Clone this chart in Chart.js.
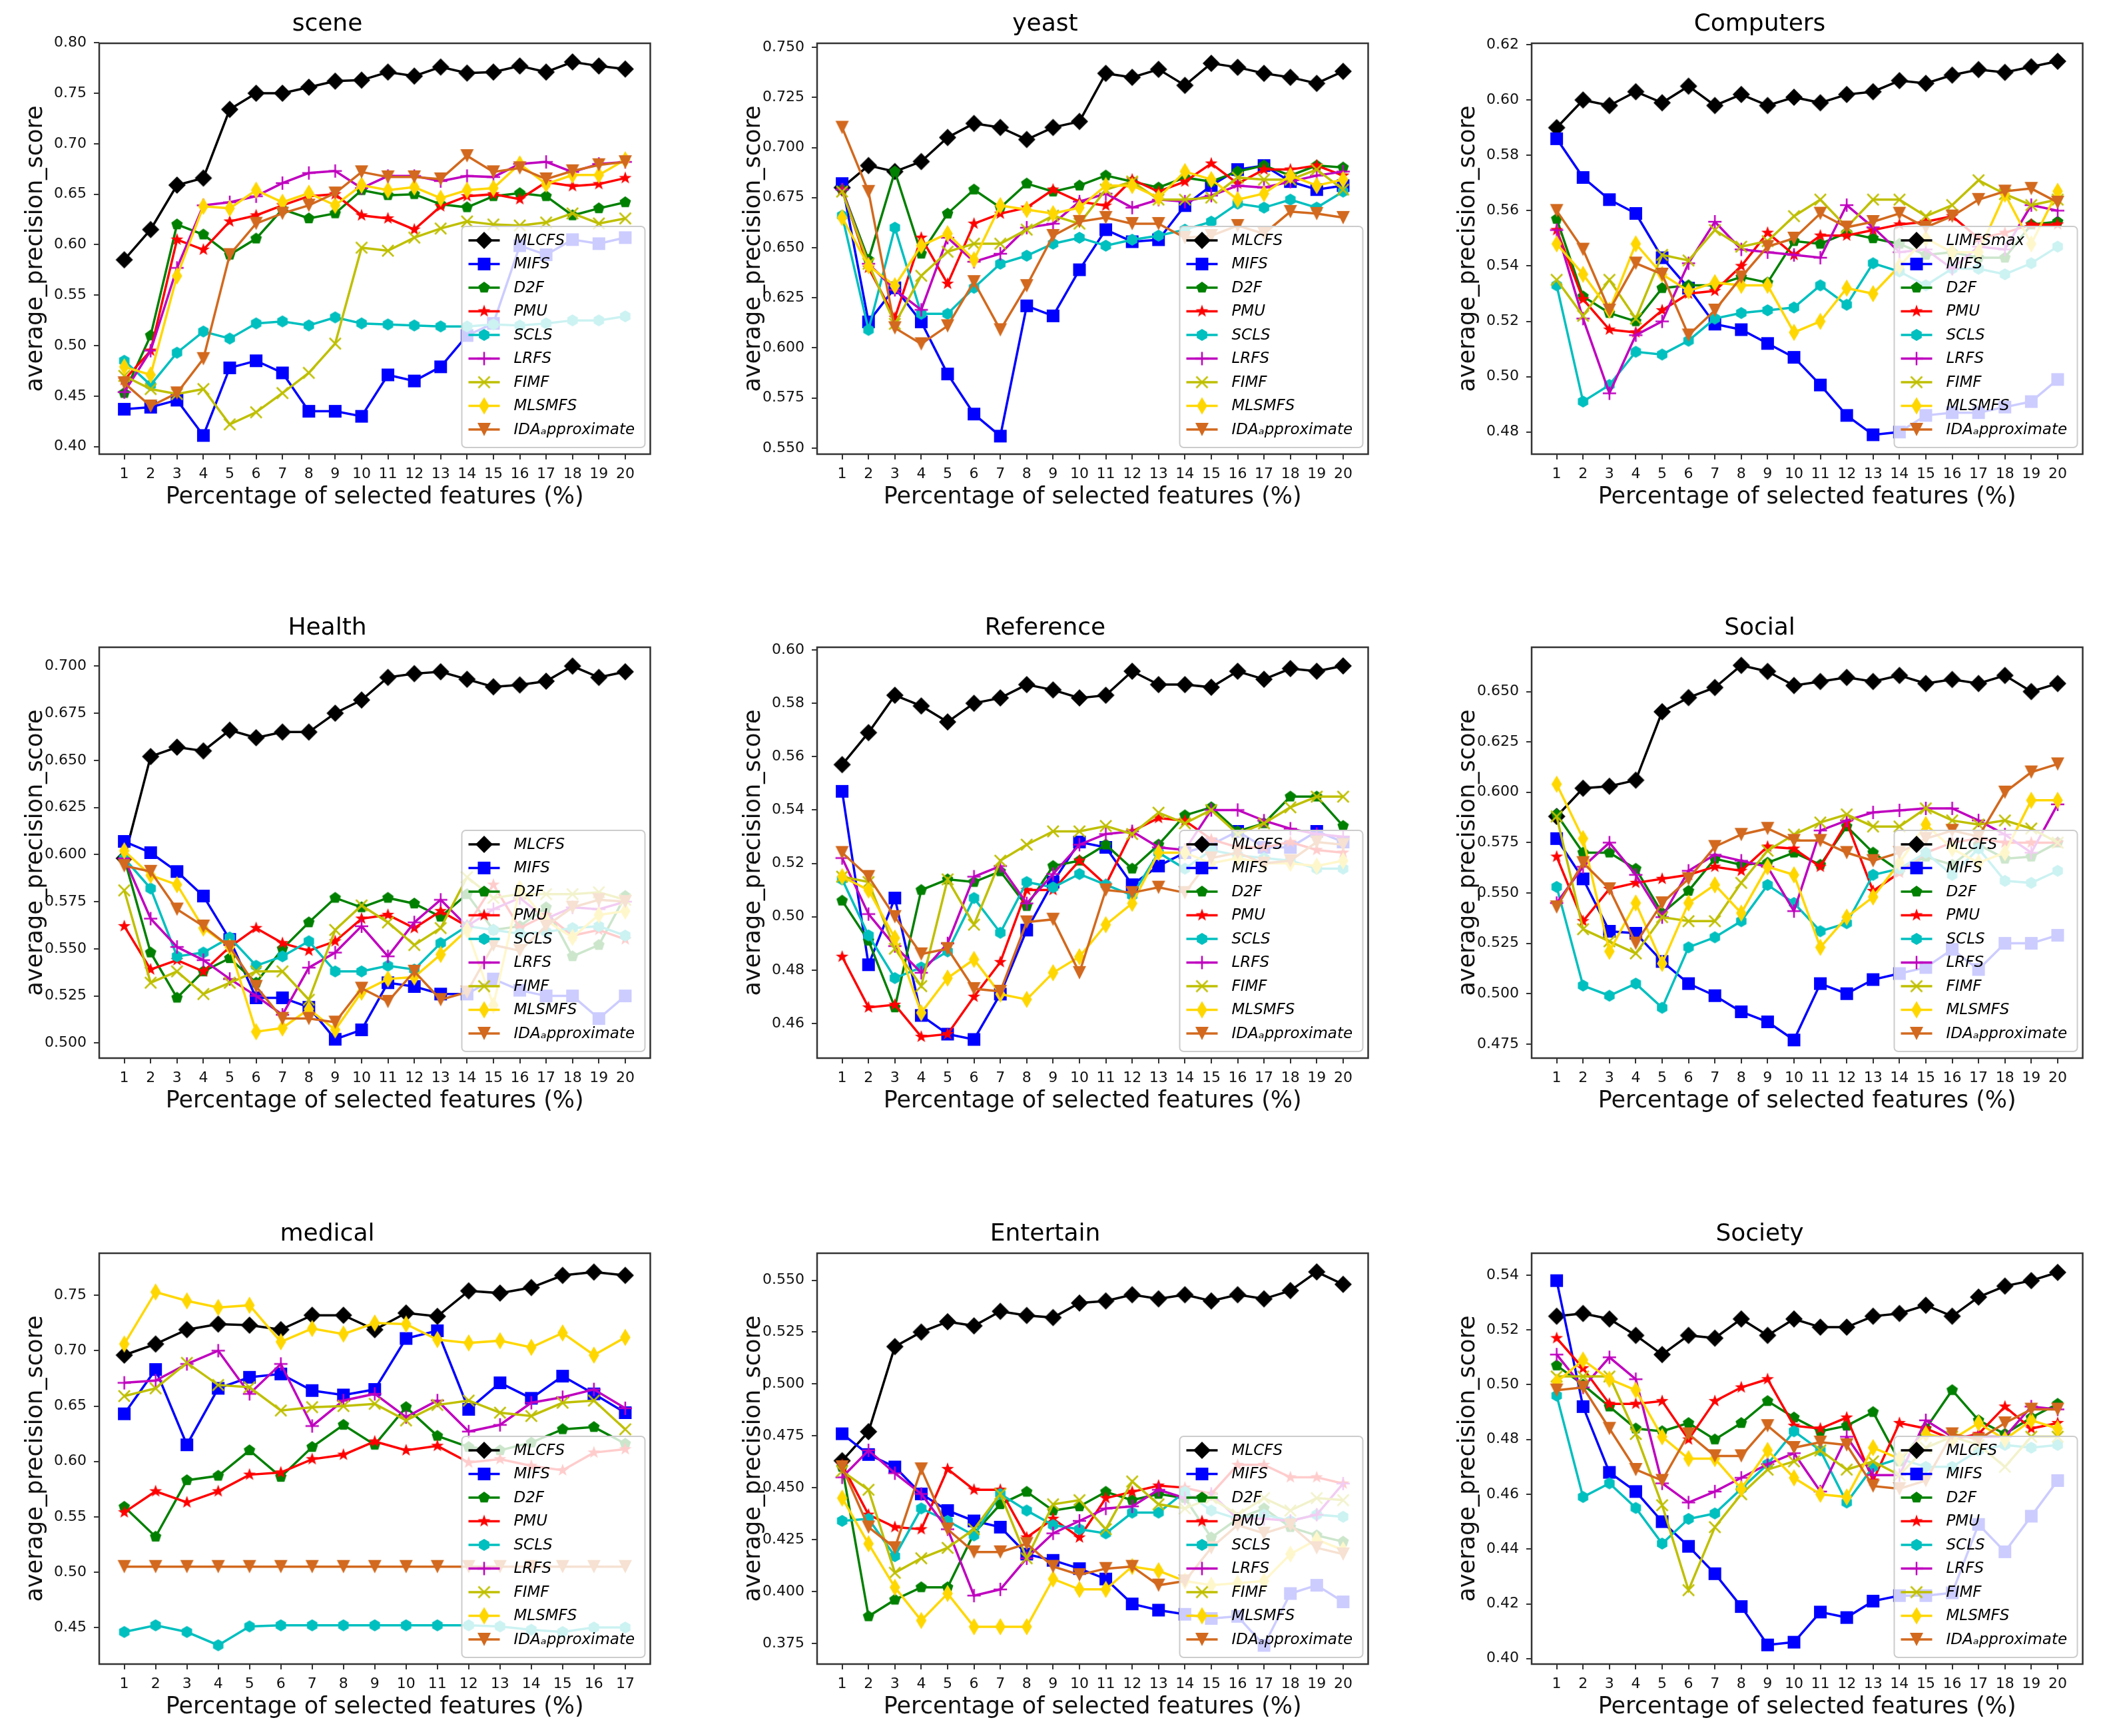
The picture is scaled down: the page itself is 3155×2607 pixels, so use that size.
<!DOCTYPE html>
<html>
<head>
<meta charset="utf-8">
<script src="https://cdn.jsdelivr.net/npm/chart.js@4.4.1/dist/chart.umd.min.js"></script>
<style>
  html, body { margin: 0; padding: 0; background: #fff; }
  body { width: 3155px; height: 2607px; position: relative; overflow: hidden; }
  .panel { position: absolute; width: 981px; height: 782px; }
</style>
</head>
<body>
<div class="panel" style="left:4px;top:0px"><canvas id="c0"></canvas></div>
<div class="panel" style="left:1082px;top:0px"><canvas id="c1"></canvas></div>
<div class="panel" style="left:2155px;top:0px"><canvas id="c2"></canvas></div>
<div class="panel" style="left:4px;top:907px"><canvas id="c3"></canvas></div>
<div class="panel" style="left:1082px;top:907px"><canvas id="c4"></canvas></div>
<div class="panel" style="left:2155px;top:907px"><canvas id="c5"></canvas></div>
<div class="panel" style="left:4px;top:1817px"><canvas id="c6"></canvas></div>
<div class="panel" style="left:1082px;top:1817px"><canvas id="c7"></canvas></div>
<div class="panel" style="left:2155px;top:1817px"><canvas id="c8"></canvas></div>
<script>
// percentage of selected features
const pct20 = [1, 2, 3, 4, 5, 6, 7, 8, 9, 10, 11, 12, 13, 14, 15, 16, 17, 18, 19, 20];
const pct17 = [1, 2, 3, 4, 5, 6, 7, 8, 9, 10, 11, 12, 13, 14, 15, 16, 17];

const methods = ['MLCFS', 'MIFS', 'D2F', 'PMU', 'SCLS', 'LRFS', 'FIMF', 'MLSMFS', 'IDA\u2090pproximate'];
const methodsComputers = ['LIMFSmax', 'MIFS', 'D2F', 'PMU', 'SCLS', 'LRFS', 'FIMF', 'MLSMFS', 'IDA\u2090pproximate'];

// scene
const sceneMLCFS  = [0.585, 0.615, 0.659, 0.666, 0.734, 0.750, 0.750, 0.756, 0.762, 0.763, 0.771, 0.767, 0.776, 0.770, 0.771, 0.777, 0.771, 0.781, 0.777, 0.774];
const sceneMIFS   = [0.437, 0.439, 0.446, 0.411, 0.478, 0.485, 0.473, 0.435, 0.435, 0.430, 0.471, 0.465, 0.479, 0.510, 0.522, 0.599, 0.590, 0.605, 0.601, 0.607];
const sceneD2F    = [0.453, 0.510, 0.620, 0.610, 0.590, 0.606, 0.635, 0.626, 0.631, 0.654, 0.649, 0.650, 0.640, 0.637, 0.648, 0.651, 0.648, 0.629, 0.636, 0.642];
const scenePMU    = [0.466, 0.495, 0.605, 0.595, 0.623, 0.629, 0.639, 0.648, 0.650, 0.629, 0.626, 0.615, 0.638, 0.648, 0.650, 0.645, 0.662, 0.658, 0.660, 0.666];
const sceneSCLS   = [0.485, 0.461, 0.493, 0.514, 0.507, 0.522, 0.524, 0.520, 0.528, 0.522, 0.521, 0.520, 0.519, 0.519, 0.521, 0.520, 0.522, 0.525, 0.525, 0.529];
const sceneLRFS   = [0.454, 0.495, 0.577, 0.639, 0.642, 0.648, 0.661, 0.671, 0.673, 0.656, 0.668, 0.668, 0.663, 0.668, 0.667, 0.680, 0.682, 0.672, 0.680, 0.682];
const sceneFIMF   = [0.470, 0.457, 0.452, 0.457, 0.422, 0.434, 0.453, 0.473, 0.502, 0.597, 0.594, 0.607, 0.616, 0.623, 0.620, 0.619, 0.622, 0.631, 0.621, 0.626];
const sceneMLSMFS = [0.479, 0.471, 0.569, 0.638, 0.636, 0.654, 0.642, 0.651, 0.639, 0.659, 0.654, 0.657, 0.646, 0.654, 0.656, 0.680, 0.660, 0.669, 0.669, 0.684];
const sceneIDA    = [0.463, 0.440, 0.453, 0.487, 0.590, 0.621, 0.631, 0.639, 0.651, 0.672, 0.667, 0.667, 0.665, 0.688, 0.672, 0.676, 0.665, 0.673, 0.679, 0.682];

// yeast
const yeastMLCFS  = [0.680, 0.691, 0.688, 0.693, 0.705, 0.712, 0.710, 0.704, 0.710, 0.713, 0.737, 0.735, 0.739, 0.731, 0.742, 0.740, 0.737, 0.735, 0.732, 0.738];
const yeastMIFS   = [0.682, 0.613, 0.630, 0.613, 0.587, 0.567, 0.556, 0.621, 0.616, 0.639, 0.659, 0.653, 0.654, 0.671, 0.681, 0.689, 0.691, 0.683, 0.679, 0.681];
const yeastD2F    = [0.679, 0.644, 0.688, 0.647, 0.667, 0.679, 0.670, 0.682, 0.678, 0.681, 0.686, 0.683, 0.680, 0.685, 0.683, 0.688, 0.691, 0.686, 0.691, 0.690];
const yeastPMU    = [0.679, 0.640, 0.615, 0.655, 0.632, 0.662, 0.667, 0.670, 0.679, 0.673, 0.671, 0.684, 0.678, 0.683, 0.692, 0.682, 0.689, 0.689, 0.691, 0.686];
const yeastSCLS   = [0.666, 0.609, 0.660, 0.617, 0.617, 0.630, 0.642, 0.646, 0.652, 0.655, 0.651, 0.654, 0.656, 0.659, 0.663, 0.672, 0.670, 0.674, 0.670, 0.678];
const yeastLRFS   = [0.679, 0.642, 0.629, 0.619, 0.655, 0.643, 0.647, 0.660, 0.662, 0.673, 0.677, 0.670, 0.674, 0.673, 0.676, 0.681, 0.680, 0.683, 0.686, 0.688];
const yeastFIMF   = [0.678, 0.642, 0.612, 0.636, 0.648, 0.652, 0.652, 0.659, 0.666, 0.662, 0.679, 0.683, 0.674, 0.674, 0.675, 0.685, 0.684, 0.684, 0.689, 0.679];
const yeastMLSMFS = [0.665, 0.641, 0.631, 0.651, 0.657, 0.644, 0.671, 0.669, 0.667, 0.670, 0.681, 0.681, 0.675, 0.688, 0.684, 0.674, 0.677, 0.686, 0.681, 0.684];
const yeastIDA    = [0.710, 0.678, 0.610, 0.602, 0.611, 0.633, 0.609, 0.631, 0.656, 0.663, 0.665, 0.662, 0.662, 0.655, 0.656, 0.661, 0.657, 0.668, 0.667, 0.665];

// Computers
const compLIMFS   = [0.590, 0.600, 0.598, 0.603, 0.599, 0.605, 0.598, 0.602, 0.598, 0.601, 0.599, 0.602, 0.603, 0.607, 0.606, 0.609, 0.611, 0.610, 0.612, 0.614];
const compMIFS    = [0.586, 0.572, 0.564, 0.559, 0.543, 0.532, 0.519, 0.517, 0.512, 0.507, 0.497, 0.486, 0.479, 0.480, 0.486, 0.487, 0.487, 0.489, 0.491, 0.499];
const compD2F     = [0.557, 0.529, 0.523, 0.520, 0.532, 0.533, 0.533, 0.536, 0.534, 0.549, 0.548, 0.552, 0.550, 0.548, 0.544, 0.545, 0.543, 0.543, 0.555, 0.556];
const compPMU     = [0.553, 0.528, 0.517, 0.516, 0.524, 0.530, 0.531, 0.540, 0.552, 0.544, 0.551, 0.551, 0.553, 0.555, 0.556, 0.558, 0.550, 0.552, 0.555, 0.555];
const compSCLS    = [0.533, 0.491, 0.497, 0.509, 0.508, 0.513, 0.521, 0.523, 0.524, 0.525, 0.533, 0.526, 0.541, 0.538, 0.533, 0.539, 0.539, 0.537, 0.541, 0.547];
const compLRFS    = [0.553, 0.521, 0.494, 0.515, 0.520, 0.541, 0.556, 0.546, 0.545, 0.544, 0.543, 0.562, 0.554, 0.545, 0.546, 0.539, 0.547, 0.546, 0.562, 0.560];
const compFIMF    = [0.535, 0.522, 0.535, 0.521, 0.544, 0.542, 0.553, 0.547, 0.549, 0.558, 0.564, 0.554, 0.564, 0.564, 0.558, 0.562, 0.571, 0.566, 0.562, 0.564];
const compMLSMFS  = [0.548, 0.537, 0.524, 0.548, 0.537, 0.531, 0.534, 0.533, 0.533, 0.516, 0.520, 0.532, 0.530, 0.540, 0.550, 0.545, 0.545, 0.566, 0.548, 0.567];
const compIDA     = [0.560, 0.546, 0.524, 0.541, 0.537, 0.515, 0.524, 0.536, 0.547, 0.550, 0.559, 0.554, 0.556, 0.559, 0.554, 0.558, 0.564, 0.567, 0.568, 0.563];

// Health
const healthMLCFS  = [0.598, 0.652, 0.657, 0.655, 0.666, 0.662, 0.665, 0.665, 0.675, 0.682, 0.694, 0.696, 0.697, 0.693, 0.689, 0.690, 0.692, 0.700, 0.694, 0.697];
const healthMIFS   = [0.607, 0.601, 0.591, 0.578, 0.555, 0.524, 0.524, 0.519, 0.502, 0.507, 0.532, 0.530, 0.526, 0.526, 0.534, 0.528, 0.525, 0.525, 0.513, 0.525];
const healthD2F    = [0.598, 0.548, 0.524, 0.538, 0.545, 0.532, 0.550, 0.564, 0.577, 0.572, 0.577, 0.574, 0.567, 0.579, 0.560, 0.562, 0.572, 0.546, 0.552, 0.578];
const healthPMU    = [0.562, 0.539, 0.544, 0.538, 0.551, 0.561, 0.553, 0.549, 0.554, 0.566, 0.568, 0.561, 0.570, 0.562, 0.584, 0.561, 0.568, 0.557, 0.560, 0.555];
const healthSCLS   = [0.598, 0.582, 0.546, 0.548, 0.556, 0.541, 0.546, 0.554, 0.538, 0.538, 0.541, 0.539, 0.553, 0.562, 0.560, 0.558, 0.559, 0.561, 0.562, 0.557];
const healthLRFS   = [0.598, 0.566, 0.551, 0.544, 0.534, 0.525, 0.515, 0.540, 0.548, 0.562, 0.546, 0.564, 0.576, 0.562, 0.571, 0.577, 0.566, 0.572, 0.571, 0.575];
const healthFIMF   = [0.581, 0.532, 0.538, 0.526, 0.532, 0.538, 0.538, 0.523, 0.560, 0.573, 0.564, 0.552, 0.561, 0.588, 0.577, 0.579, 0.579, 0.579, 0.580, 0.576];
const healthMLSMFS = [0.602, 0.589, 0.584, 0.561, 0.551, 0.506, 0.508, 0.518, 0.507, 0.527, 0.534, 0.535, 0.547, 0.560, 0.520, 0.582, 0.565, 0.556, 0.568, 0.570];
const healthIDA    = [0.594, 0.591, 0.571, 0.562, 0.551, 0.530, 0.513, 0.513, 0.511, 0.529, 0.522, 0.538, 0.523, 0.527, 0.552, 0.549, 0.562, 0.572, 0.576, 0.575];

// Reference
const refMLCFS  = [0.557, 0.569, 0.583, 0.579, 0.573, 0.580, 0.582, 0.587, 0.585, 0.582, 0.583, 0.592, 0.587, 0.587, 0.586, 0.592, 0.589, 0.593, 0.592, 0.594];
const refMIFS   = [0.547, 0.482, 0.507, 0.463, 0.456, 0.454, 0.471, 0.495, 0.513, 0.528, 0.526, 0.512, 0.519, 0.524, 0.527, 0.532, 0.526, 0.526, 0.532, 0.528];
const refD2F    = [0.506, 0.491, 0.466, 0.510, 0.514, 0.513, 0.517, 0.504, 0.519, 0.521, 0.527, 0.518, 0.527, 0.538, 0.541, 0.532, 0.535, 0.545, 0.545, 0.534];
const refPMU    = [0.485, 0.466, 0.467, 0.455, 0.456, 0.470, 0.483, 0.510, 0.510, 0.521, 0.512, 0.532, 0.537, 0.536, 0.529, 0.526, 0.526, 0.528, 0.525, 0.524];
const refSCLS   = [0.514, 0.493, 0.477, 0.481, 0.487, 0.507, 0.494, 0.513, 0.511, 0.516, 0.512, 0.508, 0.524, 0.518, 0.525, 0.523, 0.522, 0.521, 0.518, 0.518];
const refLRFS   = [0.522, 0.501, 0.489, 0.479, 0.490, 0.515, 0.519, 0.505, 0.516, 0.527, 0.531, 0.532, 0.526, 0.525, 0.540, 0.540, 0.536, 0.533, 0.531, 0.530];
const refFIMF   = [0.515, 0.513, 0.488, 0.474, 0.514, 0.497, 0.521, 0.527, 0.532, 0.532, 0.534, 0.531, 0.539, 0.535, 0.540, 0.531, 0.535, 0.541, 0.545, 0.545];
const refMLSMFS = [0.515, 0.510, 0.492, 0.464, 0.477, 0.484, 0.471, 0.469, 0.479, 0.485, 0.497, 0.505, 0.524, 0.524, 0.520, 0.522, 0.520, 0.520, 0.519, 0.521];
const refIDA    = [0.524, 0.515, 0.500, 0.486, 0.488, 0.473, 0.472, 0.498, 0.499, 0.479, 0.510, 0.509, 0.511, 0.509, 0.522, 0.524, 0.520, 0.521, 0.528, 0.527];

// Social
const socialMLCFS  = [0.588, 0.602, 0.603, 0.606, 0.640, 0.647, 0.652, 0.663, 0.660, 0.653, 0.655, 0.657, 0.655, 0.658, 0.654, 0.656, 0.654, 0.658, 0.650, 0.654];
const socialMIFS   = [0.577, 0.557, 0.531, 0.530, 0.516, 0.505, 0.499, 0.491, 0.486, 0.477, 0.505, 0.500, 0.507, 0.510, 0.513, 0.522, 0.512, 0.525, 0.525, 0.529];
const socialD2F    = [0.589, 0.570, 0.570, 0.562, 0.540, 0.551, 0.567, 0.564, 0.565, 0.570, 0.564, 0.583, 0.570, 0.561, 0.568, 0.564, 0.574, 0.567, 0.568, 0.575];
const socialPMU    = [0.568, 0.536, 0.552, 0.555, 0.557, 0.559, 0.563, 0.561, 0.573, 0.572, 0.563, 0.585, 0.551, 0.560, 0.570, 0.575, 0.577, 0.575, 0.575, 0.575];
const socialSCLS   = [0.553, 0.504, 0.499, 0.505, 0.493, 0.523, 0.528, 0.536, 0.554, 0.545, 0.531, 0.535, 0.559, 0.562, 0.570, 0.559, 0.572, 0.556, 0.555, 0.561];
const socialLRFS   = [0.545, 0.563, 0.575, 0.559, 0.538, 0.561, 0.569, 0.566, 0.563, 0.541, 0.581, 0.586, 0.590, 0.591, 0.592, 0.592, 0.586, 0.579, 0.570, 0.594];
const socialFIMF   = [0.588, 0.532, 0.526, 0.520, 0.538, 0.536, 0.536, 0.555, 0.571, 0.579, 0.585, 0.589, 0.583, 0.583, 0.592, 0.586, 0.584, 0.586, 0.582, 0.575];
const socialMLSMFS = [0.604, 0.577, 0.521, 0.545, 0.515, 0.545, 0.554, 0.540, 0.563, 0.559, 0.523, 0.538, 0.548, 0.565, 0.584, 0.572, 0.565, 0.570, 0.596, 0.596];
const socialIDA    = [0.543, 0.565, 0.552, 0.525, 0.545, 0.557, 0.573, 0.579, 0.582, 0.576, 0.576, 0.570, 0.566, 0.570, 0.577, 0.581, 0.578, 0.600, 0.610, 0.614];

// medical (17 steps)
const medMLCFS  = [0.696, 0.706, 0.719, 0.724, 0.723, 0.719, 0.732, 0.732, 0.719, 0.734, 0.731, 0.754, 0.752, 0.757, 0.768, 0.771, 0.768];
const medMIFS   = [0.643, 0.683, 0.615, 0.666, 0.676, 0.679, 0.664, 0.660, 0.665, 0.711, 0.718, 0.647, 0.671, 0.657, 0.677, 0.661, 0.644];
const medD2F    = [0.559, 0.532, 0.583, 0.587, 0.610, 0.586, 0.613, 0.633, 0.615, 0.649, 0.623, 0.613, 0.610, 0.617, 0.629, 0.631, 0.616];
const medPMU    = [0.554, 0.573, 0.563, 0.573, 0.588, 0.590, 0.602, 0.606, 0.618, 0.610, 0.614, 0.599, 0.602, 0.596, 0.592, 0.608, 0.611];
const medSCLS   = [0.446, 0.452, 0.446, 0.434, 0.451, 0.452, 0.452, 0.452, 0.452, 0.452, 0.452, 0.452, 0.451, 0.448, 0.446, 0.450, 0.450];
const medLRFS   = [0.671, 0.673, 0.688, 0.700, 0.661, 0.688, 0.632, 0.655, 0.661, 0.640, 0.655, 0.627, 0.633, 0.653, 0.658, 0.665, 0.648];
const medFIMF   = [0.659, 0.666, 0.689, 0.669, 0.667, 0.646, 0.649, 0.650, 0.652, 0.637, 0.651, 0.655, 0.644, 0.641, 0.653, 0.655, 0.629];
const medMLSMFS = [0.706, 0.753, 0.745, 0.739, 0.741, 0.708, 0.720, 0.715, 0.725, 0.724, 0.710, 0.707, 0.709, 0.703, 0.716, 0.696, 0.712];
const medIDA    = [0.505, 0.505, 0.505, 0.505, 0.505, 0.505, 0.505, 0.505, 0.505, 0.505, 0.505, 0.505, 0.505, 0.505, 0.505, 0.505, 0.505];

// Entertain
const entMLCFS  = [0.463, 0.477, 0.518, 0.525, 0.530, 0.528, 0.535, 0.533, 0.532, 0.539, 0.540, 0.543, 0.541, 0.543, 0.540, 0.543, 0.541, 0.545, 0.554, 0.548];
const entMIFS   = [0.476, 0.466, 0.460, 0.447, 0.439, 0.434, 0.431, 0.418, 0.415, 0.411, 0.406, 0.394, 0.391, 0.389, 0.387, 0.388, 0.374, 0.399, 0.403, 0.395];
const entD2F    = [0.460, 0.388, 0.396, 0.402, 0.402, 0.428, 0.442, 0.448, 0.439, 0.441, 0.448, 0.444, 0.447, 0.445, 0.426, 0.435, 0.440, 0.431, 0.427, 0.424];
const entPMU    = [0.461, 0.437, 0.431, 0.430, 0.459, 0.449, 0.449, 0.426, 0.435, 0.426, 0.445, 0.448, 0.451, 0.450, 0.447, 0.461, 0.461, 0.455, 0.455, 0.452];
const entSCLS   = [0.434, 0.435, 0.417, 0.440, 0.434, 0.427, 0.447, 0.439, 0.432, 0.430, 0.428, 0.438, 0.438, 0.448, 0.439, 0.435, 0.437, 0.434, 0.437, 0.436];
const entLRFS   = [0.455, 0.468, 0.457, 0.447, 0.430, 0.398, 0.401, 0.416, 0.428, 0.434, 0.440, 0.441, 0.449, 0.445, 0.447, 0.435, 0.435, 0.434, 0.437, 0.452];
const entFIMF   = [0.458, 0.449, 0.409, 0.416, 0.421, 0.430, 0.447, 0.416, 0.442, 0.444, 0.430, 0.453, 0.442, 0.440, 0.445, 0.437, 0.445, 0.439, 0.445, 0.444];
const entMLSMFS = [0.445, 0.423, 0.402, 0.386, 0.399, 0.383, 0.383, 0.383, 0.406, 0.401, 0.401, 0.412, 0.410, 0.405, 0.403, 0.404, 0.405, 0.418, 0.425, 0.420];
const entIDA    = [0.460, 0.431, 0.421, 0.459, 0.430, 0.419, 0.419, 0.423, 0.412, 0.408, 0.411, 0.412, 0.403, 0.405, 0.421, 0.432, 0.428, 0.432, 0.421, 0.418];

// Society
const socMLCFS  = [0.525, 0.526, 0.524, 0.518, 0.511, 0.518, 0.517, 0.524, 0.518, 0.524, 0.521, 0.521, 0.525, 0.526, 0.529, 0.525, 0.532, 0.536, 0.538, 0.541];
const socMIFS   = [0.538, 0.492, 0.468, 0.461, 0.450, 0.441, 0.431, 0.419, 0.405, 0.406, 0.417, 0.415, 0.421, 0.423, 0.423, 0.424, 0.449, 0.439, 0.452, 0.465];
const socD2F    = [0.507, 0.500, 0.492, 0.484, 0.483, 0.486, 0.480, 0.486, 0.494, 0.488, 0.483, 0.485, 0.490, 0.472, 0.484, 0.498, 0.487, 0.482, 0.488, 0.493];
const socPMU    = [0.517, 0.506, 0.493, 0.493, 0.494, 0.480, 0.494, 0.499, 0.502, 0.485, 0.484, 0.488, 0.465, 0.486, 0.484, 0.480, 0.482, 0.492, 0.484, 0.486];
const socSCLS   = [0.496, 0.459, 0.464, 0.455, 0.442, 0.451, 0.453, 0.462, 0.471, 0.483, 0.476, 0.457, 0.470, 0.473, 0.470, 0.470, 0.476, 0.478, 0.477, 0.478];
const socLRFS   = [0.511, 0.499, 0.510, 0.502, 0.464, 0.457, 0.461, 0.466, 0.471, 0.475, 0.461, 0.481, 0.467, 0.467, 0.487, 0.481, 0.481, 0.481, 0.492, 0.491];
const socFIMF   = [0.503, 0.503, 0.503, 0.482, 0.456, 0.425, 0.448, 0.460, 0.469, 0.472, 0.476, 0.469, 0.472, 0.467, 0.477, 0.481, 0.478, 0.470, 0.481, 0.481];
const socMLSMFS = [0.501, 0.509, 0.502, 0.498, 0.481, 0.473, 0.473, 0.462, 0.476, 0.466, 0.460, 0.459, 0.477, 0.473, 0.482, 0.480, 0.486, 0.480, 0.487, 0.484];
const socIDA    = [0.498, 0.499, 0.484, 0.469, 0.465, 0.482, 0.474, 0.474, 0.485, 0.477, 0.479, 0.478, 0.463, 0.462, 0.465, 0.482, 0.480, 0.486, 0.491, 0.491];

// y tick labels
const sceneYTicks  = ['0.40', '0.45', '0.50', '0.55', '0.60', '0.65', '0.70', '0.75', '0.80'];
const yeastYTicks  = ['0.550', '0.575', '0.600', '0.625', '0.650', '0.675', '0.700', '0.725', '0.750'];
const compYTicks   = ['0.48', '0.50', '0.52', '0.54', '0.56', '0.58', '0.60', '0.62'];
const healthYTicks = ['0.500', '0.525', '0.550', '0.575', '0.600', '0.625', '0.650', '0.675', '0.700'];
const refYTicks    = ['0.46', '0.48', '0.50', '0.52', '0.54', '0.56', '0.58', '0.60'];
const socialYTicks = ['0.475', '0.500', '0.525', '0.550', '0.575', '0.600', '0.625', '0.650'];
const medYTicks    = ['0.45', '0.50', '0.55', '0.60', '0.65', '0.70', '0.75'];
const entYTicks    = ['0.375', '0.400', '0.425', '0.450', '0.475', '0.500', '0.525', '0.550'];
const socYTicks    = ['0.40', '0.42', '0.44', '0.46', '0.48', '0.50', '0.52', '0.54'];

const FONT = '"DejaVu Sans", sans-serif';
const colors  = ['#000000', '#0000ff', '#008000', '#ff0000', '#00bfbf', '#bf00bf', '#bfbf00', '#ffd700', '#d2691e'];
const markers = ['D', 's', 'p', '*', 'h', '+', 'x', 'd', 'v'];

// matplotlib-like markers drawn once into small canvases
function markerCanvas(kind, color) {
  const size = { D: 26, s: 19, p: 18, '*': 20, h: 18, '+': 20, x: 17, d: 26, v: 20 }[kind];
  const c = document.createElement('canvas');
  c.width = size + 4;
  c.height = size + 4;
  const g = c.getContext('2d');
  const m = c.width / 2, r = size / 2;
  g.fillStyle = color;
  g.strokeStyle = color;
  g.lineWidth = 2.5;
  const poly = pts => {
    g.beginPath();
    pts.forEach(([px, py], i) => i ? g.lineTo(m + px, m + py) : g.moveTo(m + px, m + py));
    g.closePath();
    g.fill();
  };
  const ngon = (n, rr, rot) => Array.from({ length: n }, (_, i) => {
    const a = rot + i * 2 * Math.PI / n;
    return [rr * Math.cos(a), rr * Math.sin(a)];
  });
  if (kind === 'D') poly([[0, -r], [r, 0], [0, r], [-r, 0]]);
  else if (kind === 's') poly([[-r, -r], [r, -r], [r, r], [-r, r]]);
  else if (kind === 'p') poly(ngon(5, r, -Math.PI / 2));
  else if (kind === 'h') poly(ngon(6, r, -Math.PI / 2));
  else if (kind === 'd') poly([[0, -r], [r * 0.6, 0], [0, r], [-r * 0.6, 0]]);
  else if (kind === 'v') poly([[-r, -r], [r, -r], [0, r]]);
  else if (kind === '*') {
    const pts = [];
    for (let i = 0; i < 10; i++) {
      const a = -Math.PI / 2 + i * Math.PI / 5;
      const rr = i % 2 ? r * 0.4 : r;
      pts.push([rr * Math.cos(a), rr * Math.sin(a)]);
    }
    poly(pts);
  } else if (kind === '+') {
    g.beginPath();
    g.moveTo(m - r, m); g.lineTo(m + r, m);
    g.moveTo(m, m - r); g.lineTo(m, m + r);
    g.stroke();
  } else if (kind === 'x') {
    g.beginPath();
    g.moveTo(m - r, m - r); g.lineTo(m + r, m + r);
    g.moveTo(m + r, m - r); g.lineTo(m - r, m + r);
    g.stroke();
  }
  return c;
}

// legend box in the lower right corner, drawn over the lines like matplotlib's
const legendBox = {
  id: 'legendBox',
  afterDatasetsDraw(chart) {
    const { ctx, chartArea: a } = chart;
    const w = 275, h = 332;
    const x = a.right - 8 - w, y = a.bottom - 10 - h;
    ctx.save();
    ctx.beginPath();
    ctx.roundRect(x, y, w, h, 6);
    ctx.fillStyle = 'rgba(255,255,255,0.8)';
    ctx.fill();
    ctx.strokeStyle = '#cccccc';
    ctx.lineWidth = 2;
    ctx.stroke();
    ctx.font = 'italic 23px ' + FONT;
    ctx.textBaseline = 'middle';
    chart.data.datasets.forEach((ds, i) => {
      const cy = y + 21 + i * 35.5;
      ctx.beginPath();
      ctx.moveTo(x + 10, cy);
      ctx.lineTo(x + 57, cy);
      ctx.strokeStyle = ds.borderColor;
      ctx.lineWidth = ds.borderWidth;
      ctx.stroke();
      const img = ds.pointStyle;
      ctx.drawImage(img, x + 33.5 - img.width / 2, cy - img.height / 2);
      ctx.fillStyle = '#000';
      ctx.fillText(ds.label, x + 78, cy + 1);
    });
    ctx.restore();
  }
};

// four spines around the plot
const frame = {
  id: 'frame',
  afterDraw(chart) {
    const { ctx, chartArea: a } = chart;
    ctx.save();
    ctx.strokeStyle = '#333';
    ctx.lineWidth = 2.5;
    ctx.strokeRect(a.left, a.top, a.right - a.left, a.bottom - a.top);
    ctx.restore();
  }
};

const panels = [
  { id: 'c0', title: 'scene', x: pct20, names: methods, yTicks: sceneYTicks, yRange: [0.3925, 0.7995],
    series: [sceneMLCFS, sceneMIFS, sceneD2F, scenePMU, sceneSCLS, sceneLRFS, sceneFIMF, sceneMLSMFS, sceneIDA] },
  { id: 'c1', title: 'yeast', x: pct20, names: methods, yTicks: yeastYTicks, yRange: [0.547, 0.752],
    series: [yeastMLCFS, yeastMIFS, yeastD2F, yeastPMU, yeastSCLS, yeastLRFS, yeastFIMF, yeastMLSMFS, yeastIDA] },
  { id: 'c2', title: 'Computers', x: pct20, names: methodsComputers, yTicks: compYTicks, yRange: [0.472, 0.6205],
    series: [compLIMFS, compMIFS, compD2F, compPMU, compSCLS, compLRFS, compFIMF, compMLSMFS, compIDA] },
  { id: 'c3', title: 'Health', x: pct20, names: methods, yTicks: healthYTicks, yRange: [0.492, 0.710],
    series: [healthMLCFS, healthMIFS, healthD2F, healthPMU, healthSCLS, healthLRFS, healthFIMF, healthMLSMFS, healthIDA] },
  { id: 'c4', title: 'Reference', x: pct20, names: methods, yTicks: refYTicks, yRange: [0.447, 0.601],
    series: [refMLCFS, refMIFS, refD2F, refPMU, refSCLS, refLRFS, refFIMF, refMLSMFS, refIDA] },
  { id: 'c5', title: 'Social', x: pct20, names: methods, yTicks: socialYTicks, yRange: [0.468, 0.672],
    series: [socialMLCFS, socialMIFS, socialD2F, socialPMU, socialSCLS, socialLRFS, socialFIMF, socialMLSMFS, socialIDA] },
  { id: 'c6', title: 'medical', x: pct17, names: methods, yTicks: medYTicks, yRange: [0.417, 0.788],
    series: [medMLCFS, medMIFS, medD2F, medPMU, medSCLS, medLRFS, medFIMF, medMLSMFS, medIDA] },
  { id: 'c7', title: 'Entertain', x: pct20, names: methods, yTicks: entYTicks, yRange: [0.365, 0.563],
    series: [entMLCFS, entMIFS, entD2F, entPMU, entSCLS, entLRFS, entFIMF, entMLSMFS, entIDA] },
  { id: 'c8', title: 'Society', x: pct20, names: methods, yTicks: socYTicks, yRange: [0.398, 0.548],
    series: [socMLCFS, socMIFS, socD2F, socPMU, socSCLS, socLRFS, socFIMF, socMLSMFS, socIDA] }
];

const tickFont = { family: FONT, size: 22 };
const axisTitleFont = { family: FONT, size: 35 };

panels.forEach(p => {
  const n = p.x.length;
  const pad = (p.x[n - 1] - p.x[0]) * 0.05;
  const datasets = p.series.map((vals, i) => ({
    label: p.names[i],
    data: vals.map((v, k) => ({ x: p.x[k], y: v })),
    borderColor: colors[i],
    backgroundColor: colors[i],
    borderWidth: 3.5,
    pointStyle: markerCanvas(markers[i], colors[i]),
    pointRadius: 5,
    tension: 0,
    order: p.series.length - i
  }));

  new Chart(document.getElementById(p.id), {
    type: 'line',
    data: { datasets },
    plugins: [legendBox, frame],
    options: {
      animation: false,
      responsive: true,
      maintainAspectRatio: false,
      devicePixelRatio: 1,
      events: [],
      layout: { padding: { left: 0, right: 6, top: 0, bottom: 0 } },
      plugins: {
        legend: { display: false },
        tooltip: { enabled: false },
        title: {
          display: true,
          text: p.title,
          color: '#000',
          font: { family: FONT, size: 36, weight: 'normal' },
          padding: { top: 15, bottom: 6.8 }
        }
      },
      scales: {
        x: {
          type: 'linear',
          min: p.x[0] - pad,
          max: p.x[n - 1] + pad,
          afterBuildTicks: axis => { axis.ticks = p.x.map(v => ({ value: v })); },
          afterFit: scale => { scale.height = 100; },
          ticks: { autoSkip: false, maxRotation: 0, padding: 9, color: '#111', font: tickFont,
                   callback: v => String(v) },
          grid: { drawOnChartArea: false, drawTicks: true, tickLength: 8, color: '#333', lineWidth: 2 },
          border: { display: false },
          title: { display: true, text: 'Percentage of selected features (%)', color: '#111',
                   font: axisTitleFont, padding: { top: 0, bottom: 14 } }
        },
        y: {
          type: 'linear',
          min: p.yRange[0],
          max: p.yRange[1],
          afterBuildTicks: axis => { axis.ticks = p.yTicks.map(s => ({ value: parseFloat(s) })); },
          afterFit: scale => { scale.width = 145; },
          ticks: { padding: 11, color: '#111', font: tickFont,
                   callback: (v, i) => p.yTicks[i] },
          grid: { drawOnChartArea: false, drawTicks: true, tickLength: 8, color: '#333', lineWidth: 2 },
          border: { display: false },
          title: { display: true, text: 'average_precision_score', color: '#111',
                   font: axisTitleFont, padding: { top: 29, bottom: 0 } }
        }
      }
    }
  });
});
</script>
</body>
</html>
